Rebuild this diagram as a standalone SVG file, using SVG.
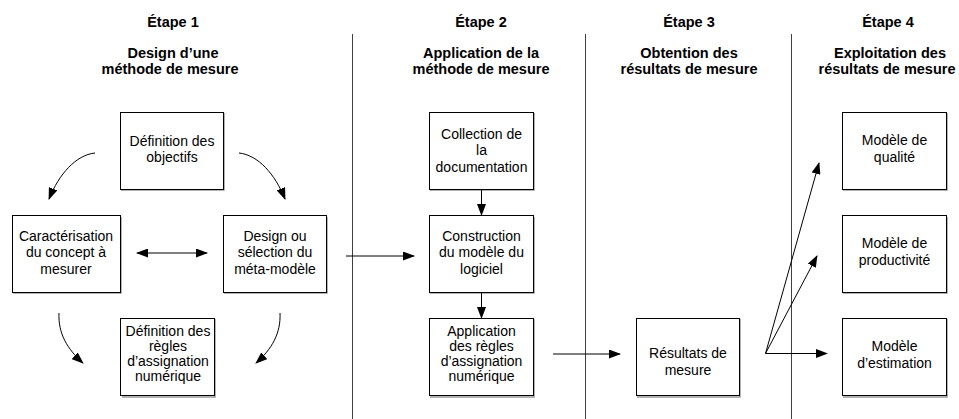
<svg xmlns="http://www.w3.org/2000/svg" width="959" height="419" viewBox="0 0 959 419">
<defs>
<marker id="ah" markerWidth="12" markerHeight="9" refX="11" refY="4.5" orient="auto-start-reverse" markerUnits="userSpaceOnUse">
<path d="M0,0 L12,4.5 L0,9 Z" fill="#000"/>
</marker>
</defs>
<style>
.hd{font-family:"Liberation Sans",Arial,sans-serif;font-size:14.5px;font-weight:bold;fill:#000;text-anchor:middle}
.tx{font-family:"Liberation Sans",Arial,sans-serif;font-size:14px;fill:#000;text-anchor:middle}
.bx{fill:#fff;stroke:#000;stroke-width:1}
.sh{fill:none;stroke:#999;stroke-width:1.5}
.sep{stroke:#404040;stroke-width:1;fill:none}
.ar{stroke:#000;stroke-width:1;fill:none;marker-end:url(#ah)}
</style>
<rect width="959" height="419" fill="#fff"/>
<g id="separators">
<line class="sep" x1="352.5" y1="34" x2="352.5" y2="419"/>
<line class="sep" x1="585.5" y1="34" x2="585.5" y2="419"/>
<line class="sep" x1="791.5" y1="34" x2="791.5" y2="419"/>
</g>
<g id="headers">
<text class="hd" x="173" y="27">Étape 1</text>
<text class="hd" x="173" y="58">Design d’une</text>
<text class="hd" x="170" y="74">méthode de mesure</text>
<text class="hd" x="481" y="27">Étape 2</text>
<text class="hd" x="481" y="58">Application de la</text>
<text class="hd" x="481" y="74">méthode de mesure</text>
<text class="hd" x="689" y="27">Étape 3</text>
<text class="hd" x="689" y="58">Obtention des</text>
<text class="hd" x="689" y="74">résultats de mesure</text>
<text class="hd" x="888" y="27">Étape 4</text>
<text class="hd" x="890" y="58">Exploitation des</text>
<text class="hd" x="887" y="74">résultats de mesure</text>
</g>
<g id="n_objectifs">
<path class="sh" d="M121,190 H224 V113"/>
<rect class="bx" x="120.5" y="112.5" width="103" height="77"/>
<text class="tx" x="172" y="145.5">Définition des</text>
<text class="tx" x="172" y="162">objectifs</text>
</g>
<g id="n_caracterisation">
<path class="sh" d="M13,293 H121 V217"/>
<rect class="bx" x="12.5" y="215.5" width="108" height="77"/>
<text class="tx" x="66" y="241">Caractérisation</text>
<text class="tx" x="66" y="257">du concept à</text>
<text class="tx" x="66" y="273.5">mesurer</text>
</g>
<g id="n_design">
<path class="sh" d="M224,293 H327 V217"/>
<rect class="bx" x="223.5" y="215.5" width="103" height="77"/>
<text class="tx" x="275" y="241">Design ou</text>
<text class="tx" x="275" y="257">sélection du</text>
<text class="tx" x="275" y="273.5">méta-modèle</text>
</g>
<g id="n_regles">
<path class="sh" d="M122,397 H215 V319"/>
<rect class="bx" x="120.5" y="318.5" width="94" height="77"/>
<text class="tx" x="168" y="336">Définition des</text>
<text class="tx" x="168" y="351">règles</text>
<text class="tx" x="168" y="366">d’assignation</text>
<text class="tx" x="168" y="381">numérique</text>
</g>
<g id="n_collection">
<path class="sh" d="M430,190 H534 V113"/>
<rect class="bx" x="429.5" y="112.5" width="104" height="77"/>
<text class="tx" x="481.5" y="138.5">Collection de</text>
<text class="tx" x="481.5" y="155">la</text>
<text class="tx" x="481.5" y="171.5">documentation</text>
</g>
<g id="n_construction">
<path class="sh" d="M430,293 H534 V217"/>
<rect class="bx" x="429.5" y="215.5" width="104" height="77"/>
<text class="tx" x="481.5" y="241">Construction</text>
<text class="tx" x="481.5" y="257">du modèle du</text>
<text class="tx" x="481.5" y="273.5">logiciel</text>
</g>
<g id="n_application">
<path class="sh" d="M430,397 H534 V319"/>
<rect class="bx" x="429.5" y="318.5" width="104" height="77"/>
<text class="tx" x="481.5" y="336">Application</text>
<text class="tx" x="481.5" y="351">des règles</text>
<text class="tx" x="481.5" y="366">d’assignation</text>
<text class="tx" x="481.5" y="381">numérique</text>
</g>
<g id="n_resultats">
<path class="sh" d="M637,397 H740 V319"/>
<rect class="bx" x="636.5" y="318.5" width="103" height="77"/>
<text class="tx" x="688" y="357.5">Résultats de</text>
<text class="tx" x="688" y="374.5">mesure</text>
</g>
<g id="n_qualite">
<path class="sh" d="M843,190 H947 V113"/>
<rect class="bx" x="842.5" y="112.5" width="104" height="77"/>
<text class="tx" x="894.5" y="144.5">Modèle de</text>
<text class="tx" x="894.5" y="161.5">qualité</text>
</g>
<g id="n_productivite">
<path class="sh" d="M843,293 H947 V217"/>
<rect class="bx" x="842.5" y="215.5" width="104" height="77"/>
<text class="tx" x="894.5" y="248">Modèle de</text>
<text class="tx" x="894.5" y="265">productivité</text>
</g>
<g id="n_estimation">
<path class="sh" d="M843,397 H947 V319"/>
<rect class="bx" x="842.5" y="318.5" width="104" height="77"/>
<text class="tx" x="894.5" y="351">Modèle</text>
<text class="tx" x="894.5" y="368">d’estimation</text>
</g>
<g id="connectors">
<path class="ar" d="M95,153 C76,155 59,174 49,199"/>
<path class="ar" d="M239,153 C258,155 275,174 285,199"/>
<path class="ar" d="M59,313 C58,333 67,349 83,363"/>
<path class="ar" d="M280,313 C281,333 272,349 256,363"/>
<path class="ar" d="M137,253 H207" style="marker-start:url(#ah)"/>
<path class="ar" d="M346,256 H414"/>
<path class="ar" d="M481.5,190 V215"/>
<path class="ar" d="M481.5,293 V318"/>
<path class="ar" d="M553,354 H620"/>
<path class="ar" d="M765.5,353.5 L819,163"/>
<path class="ar" d="M765.5,353.5 L817,256"/>
<path class="ar" d="M765.5,353.5 H827"/>
</g>
</svg>
